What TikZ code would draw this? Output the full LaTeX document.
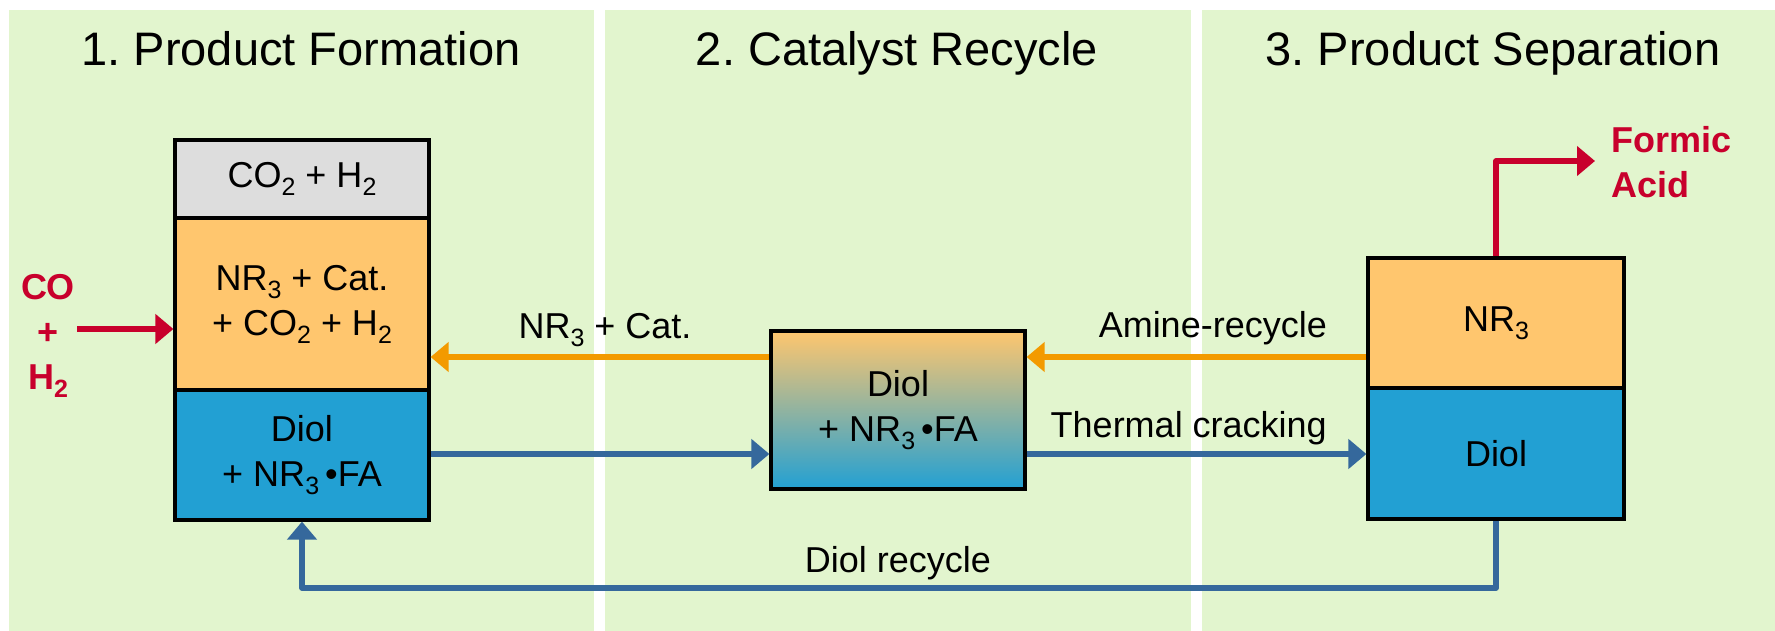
\documentclass[tikz,border=0pt]{standalone}
\usepackage{fontspec}
\setmainfont{Liberation Sans}
\usetikzlibrary{arrows.meta}
\frenchspacing
\definecolor{panelgreen}{HTML}{E2F5CE}
\definecolor{boxgray}{HTML}{DDDDDD}
\definecolor{boxorange}{HTML}{FFC66E}
\definecolor{boxblue}{HTML}{22A0D3}
\definecolor{floworange}{HTML}{F39A00}
\definecolor{flowblue}{HTML}{35689C}
\definecolor{flowred}{HTML}{C8002C}
\newcommand\lowsub[1]{\raisebox{-8pt}{\fontsize{25}{25}\selectfont #1}}
\newcommand\bxfont{\fontsize{36}{45}\selectfont}
\newcommand\rdfont{\fontsize{36}{45}\selectfont\bfseries}
\begin{document}
\begin{tikzpicture}[x=1pt,y=-1pt,
  layer/.style={draw=black, line width=3.2pt, minimum width=254pt, inner sep=0pt, align=center, font=\bxfont},
  flow/.style={line width=5.8pt, -{Triangle[length=18pt,width=29pt]}, line join=round},
  lbl/.style={font=\bxfont, anchor=base, inner sep=0pt},
  ttl/.style={font=\fontsize{47}{56}\selectfont, anchor=base, inner sep=0pt}]
\useasboundingbox (0,0) rectangle (1775,631);
\fill[white] (0,0) rectangle (1775,631);
\fill[panelgreen] (9,10) rectangle (594,631);
\fill[panelgreen] (605,10) rectangle (1191,631);
\fill[panelgreen] (1202,10) rectangle (1775,631);
% titles
\node[ttl] (t1) at (301,66) {1. Product Formation};
\node[ttl] (t2) at (897,66) {2. Catalyst Recycle};
\node[ttl] (t3) at (1493,66) {3. Product Separation};
% box 1
\node[layer, fill=boxgray, minimum height=78pt] (b1g) at (302,179) {CO\lowsub{2} + H\lowsub{2}};
\node[layer, fill=boxorange, minimum height=172pt] (b1o) at (302,304) {NR\lowsub{3} + Cat.\\+ CO\lowsub{2} + H\lowsub{2}};
\node[layer, fill=boxblue, minimum height=130pt] (b1b) at (302,455) {Diol\\+ NR\lowsub{3}\,•FA};
% middle box
\node[layer, top color=boxorange, bottom color=boxblue, minimum height=158pt] (mid) at (898,410) {Diol\\+ NR\lowsub{3}\,•FA};
% right box
\node[layer, fill=boxorange, minimum width=256pt, minimum height=130pt] (ro) at (1496,323) {NR\lowsub{3}};
\node[layer, fill=boxblue, minimum width=256pt, minimum height=131pt] (rb) at (1496,453.5) {Diol};
% red texts
\node[font=\rdfont, text=flowred, align=center, inner sep=0pt] (coh) at (48,335.5) {CO\\+\\H\lowsub{2}};
\node[font=\rdfont, text=flowred, align=left, inner sep=0pt, anchor=west] (fa) at (1611,162) {Formic\\Acid};
% labels
\node[lbl] (lnr) at (605,338) {NR\lowsub{3} + Cat.};
\node[lbl, anchor=base east] (lam) at (1327,337) {Amine-recycle};
\node[lbl, anchor=base east] (lth) at (1327,437) {Thermal cracking};
\node[lbl] (ldr) at (898,572) {Diol recycle};
% connectors
\coordinate (coS) at (77,329);
\draw[flow, flowred] (coS) -- (coS -| b1o.west);
\coordinate (oy) at (0,357);
\draw[flow, floworange] (ro.west |- oy) -- (mid.east |- oy);
\draw[flow, floworange] (mid.west |- oy) -- (b1o.east |- oy);
\coordinate (by) at (0,454);
\draw[flow, flowblue] (b1b.east |- by) -- (mid.west |- by);
\draw[flow, flowblue] (mid.east |- by) -- (rb.west |- by);
\coordinate (dy) at (0,588);
\draw[flow, flowblue] (rb.south) -- (rb.south |- dy) -| (b1b.south);
\coordinate (fy) at (1595,161);
\draw[flow, flowred] (ro.north) |- (fy);
\end{tikzpicture}
\end{document}
